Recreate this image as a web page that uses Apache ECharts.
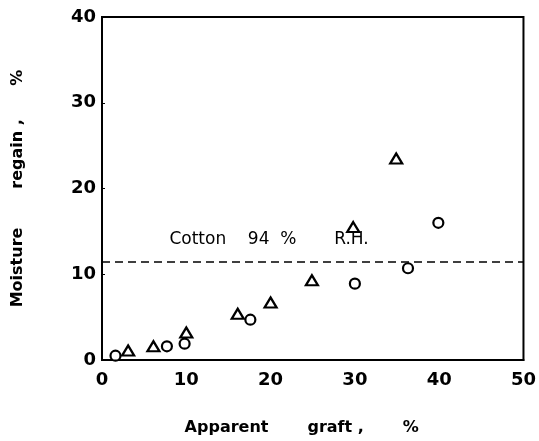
<!DOCTYPE html>
<html>
<head>
<meta charset="utf-8">
<script src="https://cdn.jsdelivr.net/npm/echarts@6/dist/echarts.min.js"></script>
<style>
  html, body { margin: 0; padding: 0; background: #fff; }
  #chart { width: 539px; height: 441px; }
</style>
</head>
<body>
<div id="chart"></div>
<script>
// open circles
const circleX = [1.6, 7.7, 9.8, 17.6, 30.0, 36.3, 39.9];
const circleY = [0.5, 1.6, 1.9, 4.7, 8.9, 10.7, 16.0];
// open triangles
const triX = [3.1, 6.1, 10.0, 16.1, 20.0, 24.9, 29.8, 34.9];
const triY = [1.1, 1.6, 3.2, 5.4, 6.7, 9.3, 15.5, 23.5];
// cotton reference line
const cottonRegain = 11.5;
const cottonLabel = 'Cotton    94  %       R.H.';
const cottonLabelAt = [8.0, 14.0];
const xTicks = [0, 10, 20, 30, 40, 50];
const yTicks = [0, 10, 20, 30, 40];

const font = 'DejaVu Sans';

const pairs = (xs, ys) => xs.map((x, i) => [x, ys[i]]);

const initChart = () => {
    const chart = echarts.init(document.getElementById('chart'));
    chart.setOption({
        animation: false,
        textStyle: { fontFamily: font, color: '#000' },
        grid: {
            left: 102, right: 14, top: 17, bottom: 81,
            show: true, borderColor: '#000', borderWidth: 2
        },
        xAxis: {
            type: 'value',
            min: xTicks[0], max: xTicks[xTicks.length - 1], interval: 10,
            name: 'Apparent       graft ,       %',
            nameLocation: 'middle', nameGap: 60,
            nameTextStyle: { fontSize: 16, fontWeight: 'bold', color: '#000', padding: [0, 22, 0, 0] },
            axisLine: { lineStyle: { color: '#000', width: 2 } },
            axisTick: { show: false },
            splitLine: { show: false },
            axisLabel: { fontSize: 18, fontWeight: 'bold', color: '#000', margin: 11 }
        },
        yAxis: {
            type: 'value',
            min: yTicks[0], max: yTicks[yTicks.length - 1], interval: 10,
            name: 'Moisture       regain ,      %',
            nameLocation: 'middle', nameGap: 76,
            nameTextStyle: { fontSize: 16, fontWeight: 'bold', color: '#000' },
            axisLine: { lineStyle: { color: '#000', width: 2 } },
            axisTick: { show: true, inside: true, length: 3, lineStyle: { color: '#000' } },
            splitLine: { show: false },
            axisLabel: { fontSize: 18, fontWeight: 'bold', color: '#000', margin: 6 }
        },
        series: [
            {
                name: 'circle',
                type: 'scatter',
                symbol: 'circle',
                symbolSize: 10,
                itemStyle: { color: '#fff', borderColor: '#000', borderWidth: 2.2, opacity: 1 },
                data: pairs(circleX, circleY),
                markLine: {
                    silent: true,
                    symbol: 'none',
                    label: { show: false },
                    lineStyle: { color: '#000', type: [8, 5], width: 1.6 },
                    data: [{ yAxis: cottonRegain }]
                }
            },
            {
                name: 'triangle',
                type: 'scatter',
                symbol: 'triangle',
                symbolSize: [12, 10],
                itemStyle: { color: '#fff', borderColor: '#000', borderWidth: 2.2, opacity: 1 },
                data: pairs(triX, triY)
            },
            {
                name: 'label',
                type: 'scatter',
                symbolSize: 0,
                silent: true,
                itemStyle: { opacity: 1 },
                data: [cottonLabelAt],
                label: {
                    show: true, position: 'right', distance: 0,
                    formatter: cottonLabel,
                    fontSize: 17, color: '#000', fontFamily: font
                }
            }
        ]
    });
};

window.addEventListener('load', initChart);
</script>
</body>
</html>
